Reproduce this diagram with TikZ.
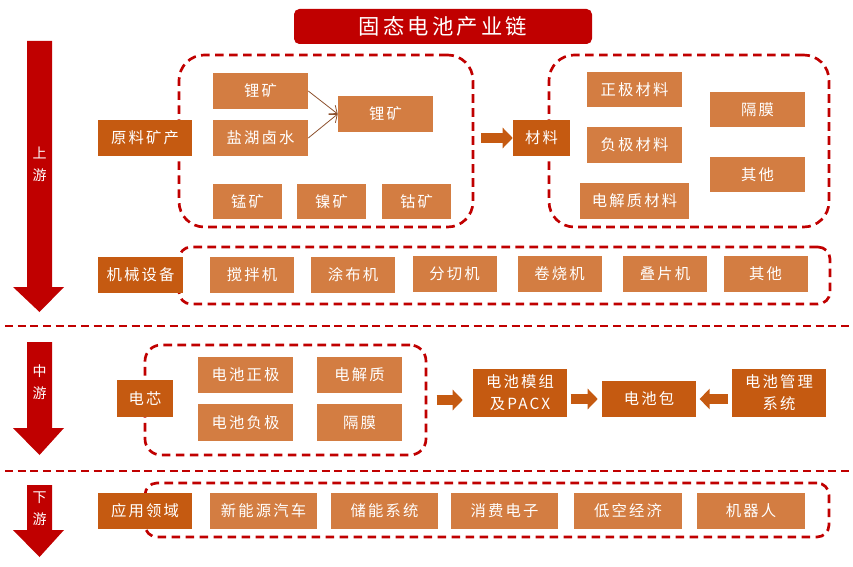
\documentclass[tikz,border=0pt]{standalone}
\usepackage{fontspec}
\setmainfont{Noto Sans CJK SC}
\usetikzlibrary{arrows.meta}
\definecolor{chainred}{RGB}{192,0,0}
\definecolor{catorange}{RGB}{197,90,17}
\definecolor{itemorange}{RGB}{211,125,66}
\definecolor{thinbrown}{RGB}{140,80,45}

\begin{document}
\begin{tikzpicture}[x=0.75pt,y=-0.75pt,
  box/.style 2 args={rectangle,inner sep=0pt,text=white,
    minimum width=#1*0.75pt,minimum height=#2*0.75pt,align=center,
    font=\fontsize{11.5}{16.5}\selectfont\addfontfeature{LetterSpace=14}},
  cat/.style 2 args={box={#1}{#2},fill=catorange},
  item/.style 2 args={box={#1}{#2},fill=itemorange},
  grp/.style 2 args={rectangle,draw=chainred,line width=2pt,
    dash pattern=on 6.5pt off 4pt,inner sep=0pt,
    minimum width=#1*0.75pt,minimum height=#2*0.75pt},
  sepline/.style={draw=chainred,line width=1.8pt,dash pattern=on 6pt off 3.5pt},
  fat/.style={draw=catorange,line width=7.5pt,-{Triangle[length=7.5pt,width=15pt]}},
  thinarrow/.style={draw=thinbrown,line width=0.6pt,-{Straight Barb[length=5pt,width=8pt]}},
  stagetxt/.style={text=white,align=center,inner sep=0pt,
    font=\fontsize{10.5}{16.5}\selectfont}]
\useasboundingbox (0,0) rectangle (853,567);

% title
\node[fill=chainred,rounded corners=4pt,inner sep=0pt,text=white,
  minimum width=298*0.75pt,minimum height=35*0.75pt,
  font=\fontsize{16}{18}\selectfont\addfontfeature{LetterSpace=15}] (title) at (443,26.5) {固态电池产业链};

% stage arrows
\fill[chainred] (27,41) -- (52,41) -- (52,287) -- (64,287) -- (39.5,312) -- (13,287) -- (27,287) -- cycle;
\node[stagetxt] (upTxt) at (39.5,164) {上\\游};
\fill[chainred] (27,342) -- (52,342) -- (52,428) -- (64,428) -- (39.5,455) -- (13,428) -- (27,428) -- cycle;
\node[stagetxt] (midTxt) at (39.5,382) {中\\游};
\fill[chainred] (27,485) -- (52,485) -- (52,530) -- (64,530) -- (39.5,557) -- (13,530) -- (27,530) -- cycle;
\node[stagetxt] (downTxt) at (39.5,509) {下\\游};

% separators
\draw[sepline] (5,326) -- (853,326);
\draw[sepline] (5,471) -- (853,471);

% upstream: raw materials
\node[grp={294}{172},rounded corners=19pt] (grpraw) at (326,141) {};
\node[cat={94}{36}] (raw) at (145,138) {原料矿产};
\node[item={95}{36}] (lit1) at (260.5,91) {锂矿};
\node[item={95}{36}] (brine) at (260.5,138) {盐湖卤水};
\node[item={95}{36}] (lit2) at (385.5,114) {锂矿};
\node[item={69}{35}] (mn) at (247.5,201.5) {锰矿};
\node[item={69}{35}] (ni) at (331.5,201.5) {镍矿};
\node[item={69}{35}] (co) at (416.5,201.5) {钴矿};
\draw[thinarrow] (lit1.east) -- (lit2.west);
\draw[thinarrow] (brine.east) -- (lit2.west);

% upstream: materials
\node[grp={280}{172},rounded corners=19pt] (grpmat) at (689,141) {};
\node[cat={57}{36}] (mat) at (541.5,138) {材料};
\node[item={95}{35}] (cath) at (634.5,89.5) {正极材料};
\node[item={95}{36}] (anod) at (634.5,145) {负极材料};
\node[item={109}{36}] (elec) at (634.5,201) {电解质材料};
\node[item={95}{35}] (sep) at (757.5,109.5) {隔膜};
\node[item={95}{35}] (oth) at (757.5,174.5) {其他};
\draw[fat,shorten <=5pt] (grpraw.east |- mat.west) -- (mat.west);

% upstream: machinery
\node[grp={651}{57},rounded corners=9pt] (grpmach) at (504.5,275.5) {};
\node[cat={85}{36}] (mach) at (140.5,275) {机械设备};
\node[item={84}{36}] (mix) at (252,275) {搅拌机};
\node[item={84}{36}] (coat) at (353,275) {涂布机};
\node[item={84}{36}] (slit) at (454.5,274) {分切机};
\node[item={84}{36}] (wind) at (559.5,274) {卷烧机};
\node[item={84}{36}] (stack) at (665,274) {叠片机};
\node[item={84}{36}] (mothr) at (765.5,274) {其他};

% midstream
\node[grp={281}{110},rounded corners=12pt] (grpcell) at (285.5,400) {};
\node[cat={56}{37}] (cell) at (145,398.5) {电芯};
\node[item={95}{36}] (pos) at (245.5,375) {电池正极};
\node[item={85}{36}] (ely) at (359.5,375) {电解质};
\node[item={95}{37}] (neg) at (245.5,422.5) {电池负极};
\node[item={85}{37}] (sep2) at (359.5,422.5) {隔膜};
\node[cat={94}{48}] (module) at (520,393) {电池模组\\及PACX};
\node[cat={94}{36}] (pack) at (649,399) {电池包};
\node[cat={94}{48}] (bms) at (779,393) {电池管理\\系统};
\draw[fat,shorten <=7pt,shorten >=7.5pt] (grpcell.east) -- (module.west |- grpcell.east);
\draw[fat,shorten <=2.5pt,shorten >=3pt] (module.east |- pack.west) -- (pack.west);
\draw[fat,shorten <=3pt,shorten >=2.5pt] (bms.west |- pack.east) -- (pack.east);

% downstream
\node[grp={684}{54},rounded corners=9pt] (grpapp) at (487,510) {};
\node[cat={94}{36}] (app) at (145,511) {应用领域};
\node[item={107}{36}] (ev) at (263.5,511) {新能源汽车};
\node[item={107}{36}] (ess) at (384.5,511) {储能系统};
\node[item={107}{36}] (cons) at (504.5,511) {消费电子};
\node[item={108}{36}] (lae) at (628,511) {低空经济};
\node[item={108}{36}] (robot) at (751,511) {机器人};
\end{tikzpicture}
\end{document}
